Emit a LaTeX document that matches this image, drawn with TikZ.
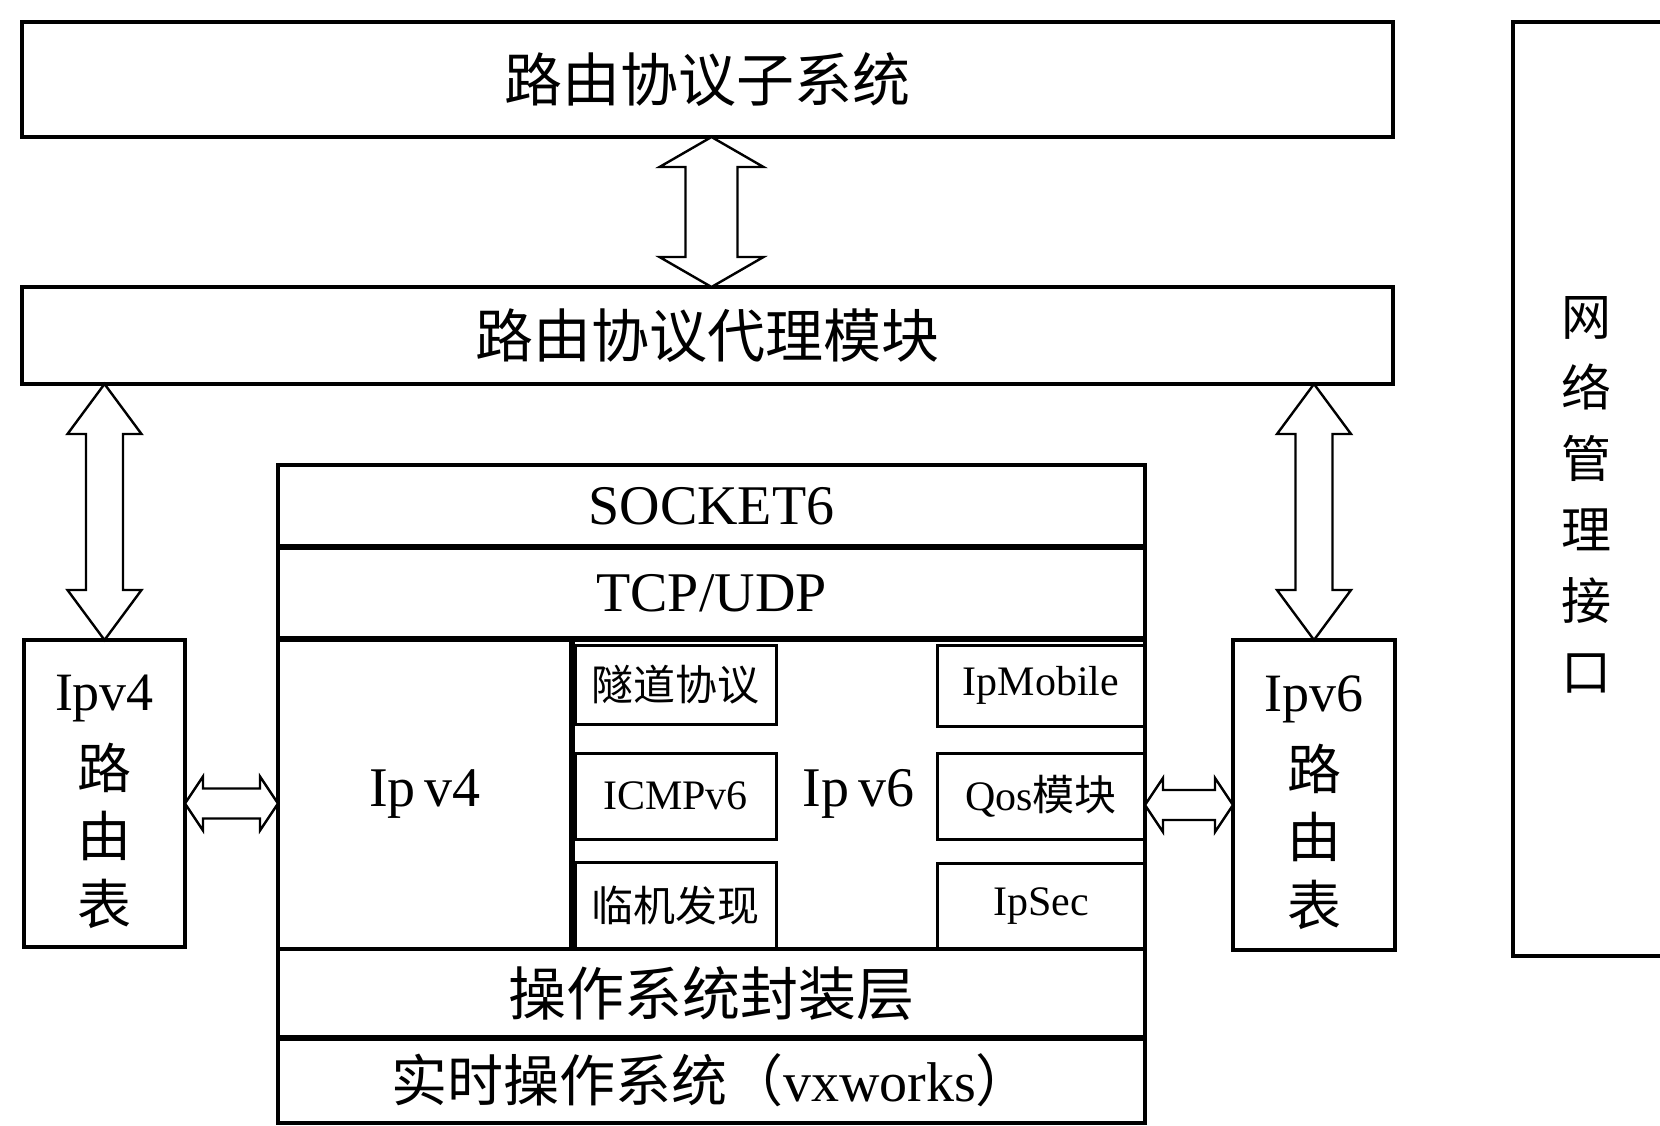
\documentclass[tikz,border=0pt]{standalone}
\usepackage{fontspec}
\setmainfont{Liberation Serif}
\newfontfamily\cjk{Noto Sans CJK SC}
\usetikzlibrary{calc}

% box by pixel corners: name, x1, y1, x2, y2, style, text
\newcommand\pxbox[7]{%
  \node[#6, minimum width={(#4-#2)*0.5pt}, minimum height={(#5-#3)*0.5pt}]
    (#1) at ({(#2+#4)/2},{(#3+#5)/2}) {#7};}

% vertical double block arrow: top end, bottom end, head half width, shaft half width, head length
\newcommand\vdblarrow[5]{%
  \draw[blk] let \p1=#1, \p2=#2 in
    (\x1,\y1) -- (\x1+#3,\y1-#5) -- (\x1+#4,\y1-#5) -- (\x1+#4,\y2+#5) -- (\x1+#3,\y2+#5)
    -- (\x1,\y2) -- (\x1-#3,\y2+#5) -- (\x1-#4,\y2+#5) -- (\x1-#4,\y1-#5) -- (\x1-#3,\y1-#5) -- cycle;}

% horizontal double block arrow: left end, right end, head half width, shaft half width, head length
\newcommand\hdblarrow[5]{%
  \draw[blk] let \p1=#1, \p2=#2 in
    (\x1,\y1) -- (\x1+#5,\y1+#3) -- (\x1+#5,\y1+#4) -- (\x2-#5,\y1+#4) -- (\x2-#5,\y1+#3)
    -- (\x2,\y1) -- (\x2-#5,\y1-#3) -- (\x2-#5,\y1-#4) -- (\x1+#5,\y1-#4) -- (\x1+#5,\y1-#3) -- cycle;}

\begin{document}
\begin{tikzpicture}[x=0.5pt,y=-0.5pt,
  box/.style={draw, line width=1.6pt, inner sep=0pt, outer sep=0pt, align=center},
  plain/.style={inner sep=0pt, outer sep=0pt, align=center},
  sub/.style={box, line width=1.5pt},
  blk/.style={draw, line width=1.2pt, fill=white, line join=miter},
  thick line/.style={line width=3pt},
  bigcjk/.style={font=\fontsize{29pt}{34pt}\selectfont\cjk},
  layer/.style={font=\fontsize{28pt}{33pt}\selectfont},
  tabtxt/.style={font=\fontsize{27pt}{34pt}\selectfont},
  vtxt/.style={font=\fontsize{25pt}{35.5pt}\selectfont\cjk},
  subtxt/.style={font=\fontsize{21pt}{25pt}\selectfont}]
\useasboundingbox (0,0) rectangle (1660,1125);

% upper boxes
\pxbox{top}{22}{22}{1393}{137}{box,bigcjk}{路由协议子系统}
\pxbox{agent}{22}{287}{1393}{384}{box,bigcjk}{路由协议代理模块}

% routing tables
\pxbox{v4tab}{24}{640}{185}{947}{box,tabtxt}{\rule{0pt}{26pt}Ipv4\\[5pt]{\cjk 路}\\{\cjk 由}\\{\cjk 表}}
\pxbox{v6tab}{1233}{640}{1395}{950}{box,tabtxt}{\rule{0pt}{26pt}Ipv6\\[5pt]{\cjk 路}\\{\cjk 由}\\{\cjk 表}}

% network management interface (right side runs off the page)
\pxbox{nm}{1513}{22}{1660}{956}{plain,vtxt}{\rule{0pt}{25pt}网\\络\\管\\理\\接\\口}
\draw[line width=1.6pt] (nm.north east) -- (nm.north west) -- (nm.south west) -- (nm.south east);

% protocol stack
\pxbox{socket}{278}{465}{1145}{547}{box,layer}{SOCKET6}
\pxbox{tcp}{278}{547}{1145}{639}{box,layer}{TCP/UDP}
\pxbox{ipv4}{278}{639}{572}{949}{box,layer}{Ip\,v4}
\pxbox{ipv6}{572}{639}{1145}{949}{box,layer}{Ip\,v6}
\pxbox{tunnel}{575}{645}{776}{724}{sub,subtxt}{{\cjk 隧道协议}}
\pxbox{icmp}{575}{753}{776}{839}{sub,subtxt}{ICMPv6}
\pxbox{nd}{575}{862}{776}{949}{sub,subtxt}{{\cjk 临机发现}}
\pxbox{mobile}{937}{645}{1145}{726}{sub,subtxt}{IpMobile}
\pxbox{qos}{937}{753}{1145}{839}{sub,subtxt}{Qos{\cjk 模块}}
\pxbox{ipsec}{937}{863}{1145}{949}{sub,subtxt}{IpSec}
\pxbox{osal}{278}{949}{1145}{1038}{box,bigcjk}{操作系统封装层}
\pxbox{rtos}{278}{1038}{1145}{1123}{box,layer}{{\cjk 实时操作系统（}vxworks{\cjk ）}}

% heavier separators
\draw[thick line] (tcp.north west) -- (tcp.north east);
\draw[thick line] (tcp.south west) -- (tcp.south east);
\draw[thick line] (ipv4.north east) -- (ipv4.south east);
\draw[thick line] (rtos.north west) -- (rtos.north east);

% block arrows
\vdblarrow{(top.south -| socket.north)}{(agent.north -| socket.north)}{26pt}{13pt}{15pt}
\vdblarrow{(agent.south -| v4tab.north)}{(v4tab.north)}{18.5pt}{9.25pt}{25pt}
\vdblarrow{(agent.south -| v6tab.north)}{(v6tab.north)}{18.5pt}{9.25pt}{25pt}
\hdblarrow{($(v4tab.east)+(0,10)$)}{($(ipv4.west |- v4tab.east)+(0,10)$)}{13.5pt}{7.5pt}{9pt}
\hdblarrow{($(ipv6.east |- v6tab.west)+(0,10)$)}{($(v6tab.west)+(0,10)$)}{13.5pt}{7.5pt}{9pt}
\end{tikzpicture}
\end{document}
